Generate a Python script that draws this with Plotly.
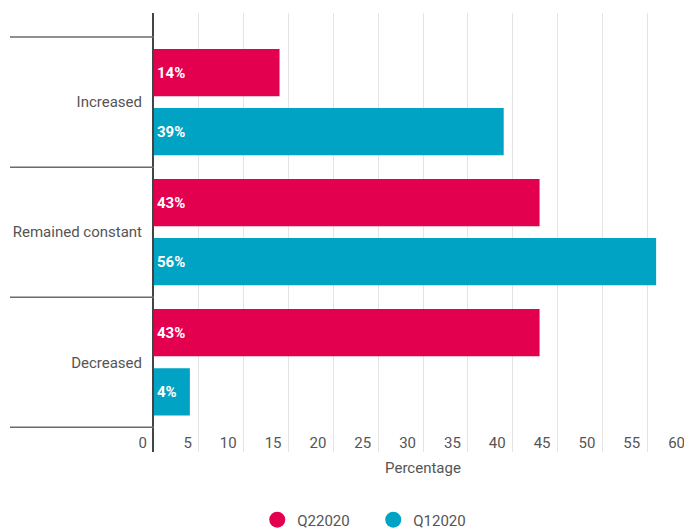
import plotly.graph_objects as go

categories = ["Increased", "Remained constant", "Decreased"]
series_names = ["Q22020", "Q12020"]
q2_2020 = [14, 43, 43]
q1_2020 = [39, 56, 4]
x_ticks = [0, 5, 10, 15, 20, 25, 30, 35, 40, 45, 50, 55, 60]

colors = ["#E2004F", "#00A3C4"]
values = [q2_2020, q1_2020]

fig = go.Figure()
for name, vals, col in zip(series_names, values, colors):
    fig.add_trace(go.Bar(
        y=categories, x=vals, name=name, orientation="h",
        marker=dict(color=col, line=dict(width=0)),
        texttemplate="%{x}%", textposition="inside", insidetextanchor="start",
        textfont=dict(family="Roboto", size=15, color="white", weight="bold"),
        showlegend=False, hoverinfo="skip",
    ))
# legend entries with circle markers
for name, col in zip(series_names, colors):
    fig.add_trace(go.Scatter(
        x=[None], y=[None], mode="markers", name=name,
        marker=dict(color=col, size=16, symbol="circle"),
        showlegend=True,
    ))

# category divider lines extending into the label area
for i in range(len(categories) + 1):
    fig.add_shape(type="line", xref="paper", yref="y",
                  x0=-0.2677, x1=0, y0=i - 0.5, y1=i - 0.5,
                  line=dict(color="#6b6b6b", width=1.5), layer="above")

# page body has an 8px margin, so the figure is sized to fit the 692x532 window
fig.update_layout(
    width=684, height=524,
    margin=dict(l=146, r=0, t=5, b=80, autoexpand=False),
    paper_bgcolor="white", plot_bgcolor="white",
    barmode="group", bargap=0.092, bargroupgap=0.2,
    font=dict(family="Roboto", size=15, color="#555555"),
    legend=dict(orientation="h", xref="container", yref="container",
                x=0.534, y=0.023, xanchor="center", yanchor="middle",
                font=dict(size=15, color="#555555"), itemwidth=30,
                entrywidth=71, entrywidthmode="pixels"),
    xaxis=dict(
        range=[0, 60], tickvals=x_ticks, ticktext=[str(v) for v in x_ticks],
        showgrid=True, gridcolor="#e4e4e4", gridwidth=1,
        zeroline=False, showline=False, automargin=False,
        ticklabelposition="outside left", ticklabelstandoff=-20, ticklabelshift=-7,
        tickfont=dict(size=15, color="#555555"),
        title=dict(text="Percentage", font=dict(size=15, color="#555555"), standoff=11),
    ),
    yaxis=dict(
        type="category", categoryorder="array", categoryarray=categories,
        range=[2.69, -0.685], automargin=False,
        showgrid=False, zeroline=False,
        showline=True, linecolor="#444444", linewidth=2,
        ticks="", ticklabelstandoff=7,
        tickfont=dict(size=15, color="#555555"),
    ),
)

fig.write_html("out.html")
